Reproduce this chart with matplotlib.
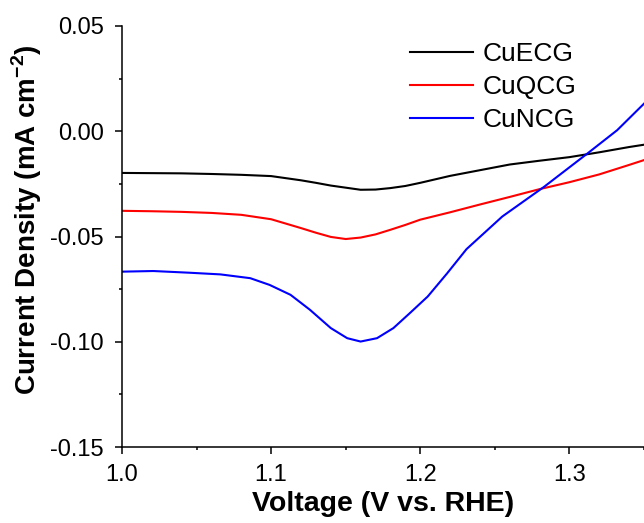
import numpy as np
import matplotlib
matplotlib.use('Agg')
import matplotlib.pyplot as plt
from matplotlib.ticker import MultipleLocator

plt.rcParams['font.family'] = ['Liberation Sans', 'DejaVu Sans']
plt.rcParams['mathtext.fontset'] = 'custom'
plt.rcParams['mathtext.rm'] = 'Liberation Sans'
plt.rcParams['mathtext.bf'] = 'Liberation Sans:bold'

# voltage (V vs. RHE) for CuECG / CuQCG
voltage = [1.00, 1.02, 1.04, 1.06, 1.08, 1.10, 1.12, 1.13, 1.14, 1.15, 1.16, 1.17,
           1.18, 1.19, 1.20, 1.22, 1.24, 1.26, 1.28, 1.30, 1.32, 1.34, 1.35]
# current density (mA cm-2)
cuecg = [-0.0198, -0.0199, -0.0200, -0.0203, -0.0207, -0.0213, -0.0233, -0.0245,
         -0.0258, -0.0268, -0.0278, -0.0277, -0.0270, -0.0260, -0.0245, -0.0212,
         -0.0185, -0.0158, -0.0140, -0.0123, -0.0100, -0.0075, -0.0064]
cuqcg = [-0.0378, -0.0380, -0.0383, -0.0388, -0.0397, -0.0418, -0.0460, -0.0482,
         -0.0502, -0.0512, -0.0505, -0.0490, -0.0468, -0.0445, -0.0420, -0.0385,
         -0.0348, -0.0312, -0.0275, -0.0242, -0.0205, -0.0160, -0.0137]

# CuNCG was read on its own voltage points
voltage_n = [1.000, 1.021, 1.045, 1.066, 1.086, 1.099, 1.113, 1.126, 1.140, 1.151,
             1.160, 1.171, 1.182, 1.193, 1.205, 1.218, 1.231, 1.255, 1.283, 1.312,
             1.332, 1.350]
cuncg = [-0.0667, -0.0664, -0.0672, -0.0680, -0.0698, -0.0730, -0.0777, -0.0848,
         -0.0935, -0.0983, -0.0999, -0.0983, -0.0935, -0.0864, -0.0785, -0.0675,
         -0.0560, -0.0405, -0.0264, -0.0106, 0.0005, 0.0131]

fig = plt.figure(figsize=(6.44, 5.23), dpi=100)
ax = fig.add_axes([0.1894, 0.1453, 0.8106, 0.8050])

ax.plot(voltage, cuecg, color='black', lw=1.5, label='CuECG')
ax.plot(voltage, cuqcg, color='red', lw=1.5, label='CuQCG')
ax.plot(voltage_n, cuncg, color='blue', lw=1.5, label='CuNCG')

ax.set_xlim(1.0, 1.35)
ax.set_ylim(-0.15, 0.05)
ax.xaxis.set_major_locator(MultipleLocator(0.1))
ax.xaxis.set_minor_locator(MultipleLocator(0.05))
ax.yaxis.set_major_locator(MultipleLocator(0.05))
ax.yaxis.set_minor_locator(MultipleLocator(0.025))
ax.xaxis.set_major_formatter(plt.FormatStrFormatter('%.1f'))
ax.yaxis.set_major_formatter(plt.FormatStrFormatter('%.2f'))

ax.spines['top'].set_visible(False)
ax.spines['right'].set_visible(False)
ax.spines['left'].set_linewidth(1.1)
ax.spines['bottom'].set_linewidth(1.1)
ax.tick_params(which='major', direction='out', length=5, width=1.1, labelsize=17)
ax.tick_params(which='minor', direction='out', length=2.5, width=1.1)
ax.tick_params(axis='x', which='major', pad=7)
ax.tick_params(axis='y', which='major', pad=8)

ax.set_xlabel('Voltage (V vs. RHE)', fontsize=20.5, fontweight='bold')
ax.xaxis.set_label_coords(0.5, -0.105)
ax.set_ylabel(r'Current Density (mA cm$^{\mathbf{-2}}$)', fontsize=20,
              fontweight='bold')
ax.yaxis.set_label_coords(-0.15, 0.54)

ax.legend(loc='upper left', bbox_to_anchor=(0.531, 0.987), borderaxespad=0,
          frameon=False, fontsize=19, handlelength=2.4, handletextpad=0.35,
          labelspacing=0.35)

fig.savefig('out.png', dpi=100)
